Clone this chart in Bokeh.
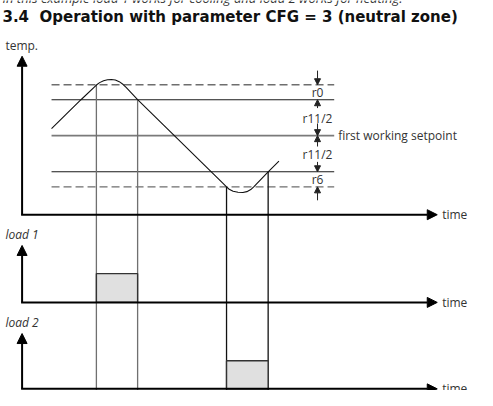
from bokeh.plotting import figure
from bokeh.models import Range1d, Arrow, NormalHead
from bokeh.core.properties import value
from bokeh.embed import file_html
from bokeh.resources import INLINE

# ---- data (time / temperature in diagram units) ----
line_start_t = 55
line_end_t = 343
level_names = ["r0 limit", "cooling setpoint", "first working setpoint", "heating setpoint", "r6 limit"]
level_temp = [87.7, 103.3, 140.7, 178.3, 194.0]
level_dash = ["8 4", "solid", "solid", "solid", "8 4"]
level_color = ["#6e6e6e", "#1a1a1a", "#7a7a7a", "#1a1a1a", "#6e6e6e"]
level_width = [1.3, 1.1, 1.6, 1.1, 1.3]

curve_t = [55, 70, 85, 100.7, 104, 108, 112, 116, 120, 124, 128, 131, 142.7,
           190, 230, 233.3, 236, 240, 245, 250, 254, 258, 261, 275.7, 286.7]
curve_temp = [133.3, 118.3, 103.3, 88.0, 85.5, 83.5, 82.5, 82.3, 82.8, 84.5, 87.5, 90.5, 103.3,
              150.5, 190.7, 194.0, 196.5, 198.5, 199.6, 199.8, 199.0, 196.8, 194.0, 178.3, 167.3]

switch_t = [100.7, 142.7, 233.3, 275.7]
switch_from = [88.0, 103.3, 194.0, 178.3]
switch_color = ["#707070", "#707070", "#111111", "#111111"]
bottom_y = 406

load1_on = [100.7]
load1_off = [142.7]
load1_level = [284.3]
load2_on = [233.3]
load2_off = [275.7]
load2_level = [375.0]

axis_x0 = 25
axis_x1 = 448
axis_base = [223.0, 314.3, 404.3]
axis_top = [58.0, 255.0, 346.7]
axis_names = ["temp.", "load 1", "load 2"]
axis_name_style = ["normal", "italic", "italic"]
axis_name_y = [47, 244, 335]

band_x = 326
band_labels = ["r0", "r11/2", "r11/2", "r6"]
band_label_y = [96, 122.7, 160.7, 186.7]
marker_y_start = [73, 112, 128, 152, 168, 208]
marker_y_end = [87.7, 103.3, 140.7, 140.7, 178.3, 194.0]

title = "3.4\u00a0\u00a0Operation with parameter CFG = 3 (neutral zone)"
intro = "In this example load 1 works for cooling and load 2 works for heating."

# ---- figure ----
p = figure(width=477, height=390, output_backend="svg", toolbar_location=None,
           x_range=Range1d(3, 489), y_range=Range1d(406, 0), min_border=0)
p.axis.visible = False
p.grid.visible = False
p.outline_line_color = None
p.background_fill_color = "white"
p.border_fill_color = "white"

# threshold lines
for t, d, c, w in zip(level_temp, level_dash, level_color, level_width):
    p.line([line_start_t, line_end_t], [t, t], line_color=c, line_width=w, line_dash=d)

# switching verticals
for t, y0, c in zip(switch_t, switch_from, switch_color):
    p.line([t, t], [y0, bottom_y], line_color=c, line_width=1.3)

# load boxes
p.quad(left=load1_on, right=load1_off, top=load1_level, bottom=[axis_base[1]],
       fill_color="#e0e0e0", line_color="#333333", line_width=1.4)
p.quad(left=load2_on, right=load2_off, top=load2_level, bottom=[axis_base[2]],
       fill_color="#e0e0e0", line_color="#333333", line_width=1.4)

# temperature curve
p.line(curve_t, curve_temp, line_color="#111111", line_width=1.1)

# axes with arrowheads
for base, top in zip(axis_base, axis_top):
    p.add_layout(Arrow(end=NormalHead(size=10, fill_color="black", line_color="black"),
                       x_start=axis_x0, y_start=base, x_end=axis_x0, y_end=top,
                       line_width=2, line_color="black"))
    p.add_layout(Arrow(end=NormalHead(size=10, fill_color="black", line_color="black"),
                       x_start=axis_x0 - 1, y_start=base, x_end=axis_x1, y_end=base,
                       line_width=2, line_color="black"))

# band markers
for ys, ye in zip(marker_y_start, marker_y_end):
    p.add_layout(Arrow(end=NormalHead(size=6, fill_color="#222222", line_color="#222222"),
                       x_start=band_x, y_start=ys, x_end=band_x, y_end=ye,
                       line_width=1, line_color="#222222"))

lab_font = value("Open Sans")

p.text(x=[band_x] * len(band_labels), y=band_label_y, text=band_labels,
       text_font=lab_font, text_font_size="12px", text_color="#333333",
       text_align="center", text_baseline="middle")

p.text(x=[347], y=[level_temp[2]], text=["first working setpoint"],
       text_font=lab_font, text_font_size="12px", text_color="#333333",
       text_align="left", text_baseline="middle")

p.text(x=[453] * 3, y=axis_base, text=["time"] * 3,
       text_font=lab_font, text_font_size="12px", text_color="#333333",
       text_align="left", text_baseline="middle")

for name, style, y in zip(axis_names, axis_name_style, axis_name_y):
    p.text(x=[8], y=[y], text=[name],
           text_font=lab_font, text_font_size="12px", text_color="#333333",
           text_font_style=style, text_align="left", text_baseline="middle")

p.text(x=[5], y=[17], text=[title], text_font=value("DejaVu Sans"),
       text_font_size="15px", text_font_style="bold", text_color="#111111",
       text_align="left", text_baseline="middle")

p.text(x=[5], y=[-3], text=[intro], text_font=lab_font, text_font_size="13px",
       text_font_style="italic", text_color="#333333",
       text_align="left", text_baseline="middle")

open("out.html", "w").write(file_html(p, INLINE))
